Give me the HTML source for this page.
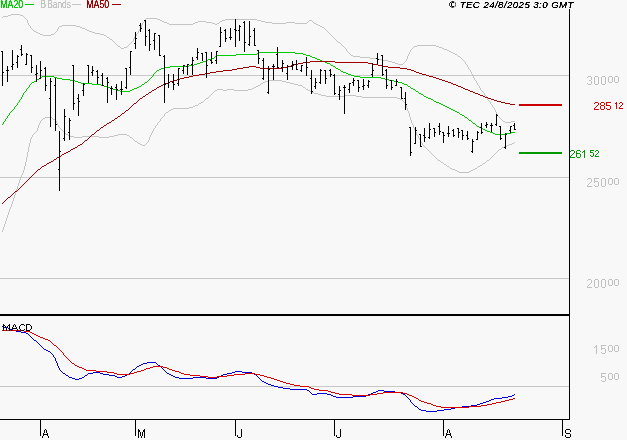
<!DOCTYPE html>
<html><head><meta charset="utf-8"><title>Chart</title>
<style>
html,body{margin:0;padding:0;background:#f8f8f8;}
body{width:627px;height:440px;overflow:hidden;font-family:"Liberation Sans",sans-serif;}
svg text{white-space:pre;}
svg{will-change:transform;transform:translateZ(0);}
</style></head><body>
<svg width="627" height="440" viewBox="0 0 627 440" style="display:block">
<defs><filter id="cr" x="-5%" y="-20%" width="110%" height="140%" color-interpolation-filters="sRGB"><feComponentTransfer><feFuncA type="linear" slope="2.6" intercept="-0.35"/></feComponentTransfer></filter></defs>
<rect x="0" y="0" width="627" height="440" fill="#f8f8f8"/>
<g shape-rendering="crispEdges">
<rect x="0" y="75" width="569" height="1" fill="#c8c8c8"/>
<rect x="0" y="177" width="569" height="1" fill="#c8c8c8"/>
<rect x="0" y="278" width="569" height="1" fill="#c8c8c8"/>
<rect x="0" y="386" width="569" height="1" fill="#c8c8c8"/>
</g>
<path d="M121 48h3v1h-3zM442 48h2v1h-2zM62 25h14v1h-14zM318 25h2v1h-2zM360 57h10v1h-10zM11 14h9v1h-9zM40 34h3v1h-3zM51 34h3v1h-3zM100 34h4v1h-4zM353 56h7v1h-7zM458 56h2v1h-2zM169 24h24v1h-24zM215 24h2v1h-2zM316 24h2v1h-2zM392 62h3v1h-3zM370 58h7v1h-7zM157 19h3v1h-3zM225 19h32v1h-32zM167 23h2v1h-2zM193 23h2v1h-2zM212 23h3v1h-3zM217 23h2v1h-2zM272 23h14v1h-14zM295 23h12v1h-12zM314 23h2v1h-2zM395 63h3v1h-3zM87 30h2v1h-2zM124 47h3v1h-3zM439 47h3v1h-3zM146 18h11v1h-11zM398 64h5v1h-5zM503 121h2v1h-2zM511 121h4v1h-4zM453 53h2v1h-2zM34 31h2v1h-2zM89 31h3v1h-3zM162 21h2v1h-2zM198 21h8v1h-8zM220 21h2v1h-2zM261 21h4v1h-4zM377 59h6v1h-6zM351 55h2v1h-2zM3 16h5v1h-5zM505 122h6v1h-6zM160 20h2v1h-2zM222 20h3v1h-3zM257 20h4v1h-4zM309 20h3v1h-3zM82 28h3v1h-3zM164 22h3v1h-3zM195 22h3v1h-3zM206 22h6v1h-6zM265 22h7v1h-7zM286 22h9v1h-9zM107 37h2v1h-2zM338 42h2v1h-2zM43 35h8v1h-8zM104 35h2v1h-2zM85 29h2v1h-2zM449 51h2v1h-2zM417 45h19v1h-19zM455 54h2v1h-2zM59 26h3v1h-3zM76 26h4v1h-4zM320 26h2v1h-2zM118 46h2v1h-2zM414 46h3v1h-3zM436 46h3v1h-3zM444 49h3v1h-3zM383 60h5v1h-5zM36 32h2v1h-2zM92 32h3v1h-3zM388 61h4v1h-4zM8 15h3v1h-3zM20 15h3v1h-3zM38 33h2v1h-2zM95 33h5v1h-5zM447 50h2v1h-2zM110 39h2v1h-2zM80 27h2v1h-2zM322 27h2v1h-2zM451 52h2v1h-2zM345 48h1v1h-1zM412 48h1v1h-1zM29 25h1v1h-1zM141 25h1v3h-1zM407 56h1v3h-1zM460 57h1v1h-1zM136 34h1v2h-1zM330 34h1v1h-1zM28 23h1v2h-1zM142 23h1v2h-1zM404 62h1v1h-1zM465 62h1v2h-1zM461 58h1v1h-1zM26 19h1v1h-1zM145 19h1v1h-1zM476 81h1v2h-1zM403 63h1v1h-1zM33 30h1v1h-1zM57 29h1v2h-1zM139 29h1v2h-1zM326 30h1v1h-1zM480 88h1v2h-1zM120 47h1v1h-1zM344 47h1v1h-1zM413 47h1v1h-1zM25 18h1v1h-1zM469 69h1v1h-1zM466 64h1v1h-1zM349 53h1v1h-1zM409 52h1v2h-1zM56 31h1v1h-1zM138 31h1v2h-1zM327 31h1v1h-1zM27 20h1v3h-1zM144 20h1v2h-1zM308 21h1v1h-1zM312 21h1v1h-1zM406 59h1v2h-1zM462 59h1v1h-1zM408 54h1v2h-1zM457 55h1v1h-1zM23 16h1v1h-1zM31 28h1v1h-1zM58 27h1v2h-1zM140 28h1v1h-1zM324 28h1v1h-1zM143 22h1v1h-1zM219 22h1v1h-1zM307 22h1v1h-1zM313 22h1v1h-1zM134 37h1v2h-1zM333 37h1v1h-1zM114 42h1v1h-1zM131 42h1v1h-1zM331 35h1v1h-1zM115 43h1v1h-1zM130 43h1v1h-1zM340 43h1v1h-1zM32 29h1v1h-1zM325 29h1v1h-1zM347 51h1v1h-1zM410 50h1v2h-1zM117 45h1v1h-1zM128 45h1v1h-1zM342 45h1v1h-1zM479 86h1v2h-1zM116 44h1v1h-1zM129 44h1v1h-1zM341 44h1v1h-1zM350 54h1v1h-1zM472 74h1v2h-1zM475 80h1v1h-1zM30 26h1v2h-1zM127 46h1v1h-1zM343 46h1v1h-1zM468 67h1v2h-1zM346 49h1v2h-1zM411 49h1v1h-1zM106 36h1v1h-1zM135 36h1v1h-1zM332 36h1v1h-1zM463 60h1v1h-1zM2 17h1v1h-1zM24 17h1v1h-1zM109 38h1v1h-1zM334 38h1v1h-1zM478 85h1v1h-1zM471 72h1v2h-1zM55 32h1v1h-1zM328 32h1v1h-1zM500 118h1v1h-1zM405 61h1v1h-1zM464 61h1v1h-1zM501 119h1v1h-1zM482 91h1v1h-1zM467 65h1v2h-1zM486 96h1v2h-1zM54 33h1v1h-1zM137 33h1v1h-1zM329 33h1v1h-1zM133 39h1v2h-1zM335 39h1v1h-1zM112 40h1v1h-1zM336 40h1v1h-1zM470 70h1v2h-1zM502 120h1v1h-1zM485 95h1v1h-1zM348 52h1v1h-1zM484 93h1v2h-1zM487 98h1v2h-1zM488 100h1v1h-1zM483 92h1v1h-1zM113 41h1v1h-1zM132 41h1v1h-1zM337 41h1v1h-1zM495 110h1v2h-1zM490 102h1v2h-1zM498 116h1v1h-1zM491 104h1v1h-1zM494 108h1v2h-1zM497 114h1v2h-1zM496 112h1v2h-1zM489 101h1v1h-1zM492 105h1v2h-1zM493 107h1v1h-1zM474 78h1v2h-1zM499 117h1v1h-1zM477 83h1v2h-1zM473 76h1v2h-1zM481 90h1v1h-1z" fill="#c4c4c4" shape-rendering="crispEdges"/>
<path d="M53 119h2v1h-2zM480 165h2v1h-2zM268 80h14v1h-14zM138 143h2v1h-2zM512 143h2v1h-2zM135 141h2v1h-2zM173 108h16v1h-16zM70 136h4v1h-4zM82 136h17v1h-17zM109 136h5v1h-5zM45 117h7v1h-7zM326 96h19v1h-19zM356 96h6v1h-6zM362 97h35v1h-35zM312 92h2v1h-2zM438 160h2v1h-2zM487 160h2v1h-2zM252 88h2v1h-2zM263 82h2v1h-2zM286 82h4v1h-4zM74 137h8v1h-8zM99 137h10v1h-10zM130 137h2v1h-2zM254 87h2v1h-2zM303 87h2v1h-2zM314 93h4v1h-4zM321 95h5v1h-5zM345 95h11v1h-11zM43 118h2v1h-2zM444 164h2v1h-2zM215 90h2v1h-2zM223 90h4v1h-4zM234 90h14v1h-14zM308 90h2v1h-2zM265 81h3v1h-3zM282 81h4v1h-4zM68 135h2v1h-2zM114 135h4v1h-4zM127 135h2v1h-2zM66 134h2v1h-2zM118 134h9v1h-9zM217 89h6v1h-6zM227 89h7v1h-7zM248 89h4v1h-4zM306 89h2v1h-2zM450 168h2v1h-2zM475 168h2v1h-2zM400 99h2v1h-2zM294 84h4v1h-4zM441 162h2v1h-2zM452 169h3v1h-3zM473 169h2v1h-2zM201 102h2v1h-2zM318 94h3v1h-3zM459 172h10v1h-10zM483 163h2v1h-2zM258 85h2v1h-2zM298 85h4v1h-4zM504 146h3v1h-3zM142 145h3v1h-3zM507 145h2v1h-2zM502 147h2v1h-2zM193 106h2v1h-2zM457 171h2v1h-2zM469 171h2v1h-2zM166 112h2v1h-2zM206 98h2v1h-2zM397 98h3v1h-3zM447 166h2v1h-2zM478 166h2v1h-2zM261 83h2v1h-2zM290 83h4v1h-4zM499 149h2v1h-2zM195 105h3v1h-3zM189 107h4v1h-4zM310 91h2v1h-2zM140 144h2v1h-2zM509 144h3v1h-3zM455 170h2v1h-2zM471 170h2v1h-2zM199 103h2v1h-2zM169 110h2v1h-2zM256 86h2v1h-2zM171 109h2v1h-2zM26 157h1v5h-1zM437 159h1v1h-1zM489 159h1v1h-1zM30 139h1v4h-1zM137 142h1v1h-1zM147 142h1v1h-1zM421 142h1v1h-1zM514 142h1v1h-1zM42 119h1v1h-1zM160 119h1v2h-1zM410 117h1v3h-1zM25 162h1v4h-1zM446 165h1v1h-1zM6 218h1v3h-1zM29 143h1v4h-1zM146 143h1v1h-1zM422 143h1v2h-1zM148 140h1v2h-1zM420 140h1v2h-1zM407 108h1v3h-1zM32 135h1v2h-1zM129 136h1v1h-1zM150 135h1v2h-1zM418 136h1v2h-1zM162 117h1v1h-1zM38 125h1v3h-1zM58 125h1v2h-1zM155 126h1v2h-1zM413 125h1v3h-1zM13 198h1v3h-1zM209 96h1v1h-1zM208 97h1v1h-1zM213 92h1v1h-1zM305 88h1v1h-1zM17 186h1v3h-1zM31 137h1v2h-1zM149 137h1v3h-1zM133 139h1v1h-1zM419 138h1v2h-1zM28 147h1v5h-1zM426 148h1v1h-1zM501 148h1v1h-1zM9 209h1v3h-1zM21 175h1v2h-1zM5 221h1v3h-1zM212 93h1v1h-1zM210 95h1v1h-1zM52 118h1v1h-1zM161 118h1v1h-1zM34 133h1v1h-1zM65 133h1v1h-1zM151 133h1v2h-1zM416 132h1v3h-1zM482 164h1v1h-1zM37 128h1v3h-1zM61 129h1v1h-1zM153 129h1v2h-1zM414 128h1v2h-1zM163 116h1v1h-1zM409 113h1v4h-1zM4 224h1v3h-1zM16 189h1v3h-1zM417 135h1v1h-1zM33 134h1v1h-1zM27 152h1v5h-1zM434 156h1v1h-1zM492 156h1v1h-1zM24 166h1v4h-1zM449 167h1v1h-1zM477 167h1v1h-1zM205 99h1v1h-1zM260 84h1v1h-1zM35 132h1v1h-1zM64 132h1v1h-1zM152 131h1v2h-1zM485 162h1v1h-1zM404 102h1v1h-1zM134 140h1v1h-1zM203 101h1v1h-1zM403 101h1v1h-1zM211 94h1v1h-1zM156 125h1v1h-1zM23 170h1v3h-1zM8 212h1v3h-1zM443 163h1v1h-1zM60 128h1v1h-1zM154 128h1v1h-1zM12 201h1v3h-1zM424 146h1v1h-1zM36 131h1v1h-1zM63 131h1v1h-1zM415 130h1v2h-1zM423 145h1v1h-1zM425 147h1v1h-1zM406 105h1v3h-1zM11 204h1v3h-1zM431 153h1v1h-1zM495 153h1v1h-1zM432 154h1v1h-1zM494 154h1v1h-1zM428 150h1v1h-1zM498 150h1v1h-1zM408 111h1v2h-1zM20 177h1v3h-1zM40 121h1v2h-1zM56 121h1v2h-1zM158 122h1v1h-1zM411 120h1v3h-1zM59 127h1v1h-1zM430 152h1v1h-1zM496 152h1v1h-1zM3 227h1v3h-1zM427 149h1v1h-1zM41 120h1v1h-1zM55 120h1v1h-1zM7 215h1v3h-1zM19 180h1v3h-1zM214 91h1v1h-1zM2 230h1v2h-1zM164 114h1v2h-1zM62 130h1v1h-1zM198 104h1v1h-1zM405 103h1v2h-1zM165 113h1v1h-1zM145 144h1v1h-1zM15 192h1v3h-1zM39 123h1v2h-1zM57 123h1v2h-1zM157 123h1v2h-1zM412 123h1v2h-1zM435 157h1v1h-1zM491 157h1v1h-1zM204 100h1v1h-1zM402 100h1v1h-1zM10 207h1v2h-1zM14 195h1v3h-1zM18 183h1v3h-1zM302 86h1v1h-1zM433 155h1v1h-1zM493 155h1v1h-1zM436 158h1v1h-1zM490 158h1v1h-1zM440 161h1v1h-1zM486 161h1v1h-1zM22 173h1v2h-1zM159 121h1v1h-1zM132 138h1v1h-1zM429 151h1v1h-1zM497 151h1v1h-1zM168 111h1v1h-1z" fill="#c4c4c4" shape-rendering="crispEdges"/>
<path d="M39 78h2v1h-2zM57 78h5v1h-5zM381 78h4v1h-4zM70 80h5v1h-5zM389 80h5v1h-5zM206 60h2v1h-2zM320 60h2v1h-2zM34 81h2v1h-2zM75 81h3v1h-3zM394 81h4v1h-4zM113 89h3v1h-3zM132 89h2v1h-2zM413 89h2v1h-2zM170 66h19v1h-19zM333 66h2v1h-2zM217 55h19v1h-19zM306 55h4v1h-4zM200 62h3v1h-3zM325 62h2v1h-2zM108 87h2v1h-2zM137 87h2v1h-2zM116 90h4v1h-4zM130 90h2v1h-2zM197 63h3v1h-3zM327 63h3v1h-3zM351 75h3v1h-3zM92 84h9v1h-9zM142 84h2v1h-2zM404 84h3v1h-3zM165 67h5v1h-5zM259 52h36v1h-36zM37 79h2v1h-2zM62 79h8v1h-8zM385 79h4v1h-4zM493 133h2v1h-2zM505 133h6v1h-6zM101 85h3v1h-3zM236 54h21v1h-21zM303 54h3v1h-3zM104 86h4v1h-4zM139 86h2v1h-2zM408 86h2v1h-2zM431 99h2v1h-2zM32 82h2v1h-2zM78 82h3v1h-3zM145 82h2v1h-2zM398 82h4v1h-4zM42 76h12v1h-12zM354 76h6v1h-6zM495 134h10v1h-10zM54 77h3v1h-3zM360 77h21v1h-21zM81 83h11v1h-11zM402 83h2v1h-2zM110 88h3v1h-3zM134 88h3v1h-3zM411 88h2v1h-2zM341 71h2v1h-2zM189 65h5v1h-5zM331 65h2v1h-2zM485 130h2v1h-2zM348 74h3v1h-3zM477 126h2v1h-2zM490 132h3v1h-3zM511 132h4v1h-4zM120 91h10v1h-10zM416 91h2v1h-2zM455 111h2v1h-2zM460 114h2v1h-2zM421 94h2v1h-2zM451 109h2v1h-2zM257 53h2v1h-2zM295 53h8v1h-8zM462 115h2v1h-2zM447 107h2v1h-2zM312 57h3v1h-3zM481 128h2v1h-2zM208 59h3v1h-3zM317 59h3v1h-3zM434 101h2v1h-2zM439 103h2v1h-2zM343 72h3v1h-3zM443 105h2v1h-2zM346 73h2v1h-2zM487 131h3v1h-3zM159 69h2v1h-2zM338 69h2v1h-2zM436 102h3v1h-3zM428 98h3v1h-3zM203 61h3v1h-3zM322 61h3v1h-3zM473 123h2v1h-2zM424 96h2v1h-2zM469 120h2v1h-2zM161 68h4v1h-4zM336 68h2v1h-2zM194 64h3v1h-3zM211 58h3v1h-3zM315 58h2v1h-2zM215 56h2v1h-2zM310 56h2v1h-2zM465 117h2v1h-2zM483 129h2v1h-2zM457 112h2v1h-2zM449 108h2v1h-2zM479 127h2v1h-2zM453 110h2v1h-2zM445 106h2v1h-2zM441 104h2v1h-2zM157 70h2v1h-2zM426 97h2v1h-2zM419 93h2v1h-2zM150 78h1v1h-1zM36 80h1v1h-1zM148 80h1v1h-1zM5 119h1v2h-1zM468 119h1v1h-1zM147 81h1v1h-1zM26 89h1v2h-1zM28 87h1v1h-1zM410 87h1v1h-1zM415 90h1v1h-1zM24 92h1v1h-1zM418 92h1v1h-1zM153 74h1v2h-1zM30 84h1v1h-1zM335 67h1v1h-1zM149 79h1v1h-1zM6 118h1v1h-1zM467 118h1v1h-1zM29 85h1v2h-1zM141 85h1v1h-1zM407 85h1v1h-1zM20 99h1v1h-1zM152 76h1v1h-1zM41 77h1v1h-1zM151 77h1v1h-1zM3 122h1v2h-1zM472 122h1v1h-1zM31 83h1v1h-1zM144 83h1v1h-1zM27 88h1v1h-1zM156 71h1v1h-1zM9 113h1v2h-1zM459 113h1v1h-1zM25 91h1v1h-1zM11 111h1v1h-1zM23 93h1v2h-1zM13 109h1v1h-1zM8 115h1v1h-1zM14 107h1v2h-1zM214 57h1v1h-1zM19 100h1v2h-1zM17 103h1v2h-1zM2 124h1v1h-1zM475 124h1v1h-1zM433 100h1v1h-1zM155 72h1v1h-1zM16 105h1v1h-1zM154 73h1v1h-1zM18 102h1v1h-1zM21 97h1v2h-1zM22 95h1v2h-1zM330 64h1v1h-1zM7 116h1v2h-1zM464 116h1v1h-1zM10 112h1v1h-1zM12 110h1v1h-1zM15 106h1v1h-1zM340 70h1v1h-1zM4 121h1v1h-1zM471 121h1v1h-1zM423 95h1v1h-1zM476 125h1v1h-1z" fill="#00cc00" shape-rendering="crispEdges"/>
<path d="M184 77h5v1h-5zM433 77h3v1h-3zM494 100h3v1h-3zM223 70h9v1h-9zM411 70h3v1h-3zM210 72h6v1h-6zM416 72h3v1h-3zM298 63h5v1h-5zM368 63h5v1h-5zM249 66h7v1h-7zM288 66h3v1h-3zM382 66h6v1h-6zM134 103h2v1h-2zM505 103h5v1h-5zM44 165h2v1h-2zM303 62h7v1h-7zM335 62h33v1h-33zM180 78h4v1h-4zM436 78h3v1h-3zM237 68h6v1h-6zM260 68h23v1h-23zM400 68h7v1h-7zM497 101h4v1h-4zM78 145h2v1h-2zM177 79h3v1h-3zM439 79h3v1h-3zM205 73h5v1h-5zM419 73h3v1h-3zM168 82h2v1h-2zM448 82h3v1h-3zM216 71h7v1h-7zM414 71h2v1h-2zM75 147h2v1h-2zM189 76h4v1h-4zM429 76h4v1h-4zM15 191h2v1h-2zM199 74h6v1h-6zM422 74h4v1h-4zM310 61h25v1h-25zM294 64h4v1h-4zM373 64h5v1h-5zM501 102h4v1h-4zM8 197h2v1h-2zM163 84h2v1h-2zM453 84h3v1h-3zM66 152h2v1h-2zM170 81h3v1h-3zM445 81h3v1h-3zM97 130h2v1h-2zM54 159h2v1h-2zM243 67h6v1h-6zM256 67h4v1h-4zM283 67h5v1h-5zM388 67h12v1h-12zM109 122h2v1h-2zM71 149h2v1h-2zM101 127h2v1h-2zM62 154h2v1h-2zM159 86h2v1h-2zM458 86h3v1h-3zM193 75h6v1h-6zM426 75h3v1h-3zM173 80h4v1h-4zM442 80h3v1h-3zM475 93h3v1h-3zM51 161h2v1h-2zM42 166h2v1h-2zM146 94h2v1h-2zM478 94h2v1h-2zM143 96h2v1h-2zM483 96h2v1h-2zM59 156h2v1h-2zM47 163h2v1h-2zM470 91h3v1h-3zM463 88h2v1h-2zM149 92h2v1h-2zM473 92h2v1h-2zM85 140h2v1h-2zM154 89h2v1h-2zM465 89h3v1h-3zM232 69h5v1h-5zM407 69h4v1h-4zM485 97h3v1h-3zM140 98h2v1h-2zM488 98h3v1h-3zM152 90h2v1h-2zM468 90h2v1h-2zM115 118h2v1h-2zM107 123h2v1h-2zM92 134h2v1h-2zM480 95h3v1h-3zM73 148h2v1h-2zM291 65h3v1h-3zM378 65h4v1h-4zM491 99h3v1h-3zM510 104h5v1h-5zM161 85h2v1h-2zM456 85h2v1h-2zM57 157h2v1h-2zM49 162h2v1h-2zM112 120h2v1h-2zM157 87h2v1h-2zM461 87h2v1h-2zM104 125h2v1h-2zM165 83h3v1h-3zM451 83h2v1h-2zM80 144h2v1h-2zM118 116h2v1h-2zM68 151h2v1h-2zM122 113h2v1h-2zM126 110h2v1h-2zM64 153h2v1h-2zM38 169h2v1h-2zM138 100h1v1h-1zM96 131h1v1h-1zM53 160h1v1h-1zM2 203h1v1h-1zM37 170h1v1h-1zM137 101h1v1h-1zM94 133h1v1h-1zM83 142h1v1h-1zM87 139h1v1h-1zM25 182h1v1h-1zM136 102h1v1h-1zM41 167h1v1h-1zM121 114h1v1h-1zM125 111h1v1h-1zM114 119h1v1h-1zM106 124h1v1h-1zM148 93h1v1h-1zM129 108h1v1h-1zM32 175h1v1h-1zM151 91h1v1h-1zM156 88h1v1h-1zM20 187h1v1h-1zM89 137h1v1h-1zM7 198h1v1h-1zM142 97h1v1h-1zM11 195h1v1h-1zM4 201h1v1h-1zM61 155h1v1h-1zM27 180h1v1h-1zM145 95h1v1h-1zM120 115h1v1h-1zM139 99h1v1h-1zM133 104h1v1h-1zM100 128h1v1h-1zM131 106h1v1h-1zM124 112h1v1h-1zM22 185h1v1h-1zM34 173h1v1h-1zM6 199h1v1h-1zM10 196h1v1h-1zM91 135h1v1h-1zM29 178h1v1h-1zM95 132h1v1h-1zM84 141h1v1h-1zM99 129h1v1h-1zM56 158h1v1h-1zM13 193h1v1h-1zM82 143h1v1h-1zM17 190h1v1h-1zM36 171h1v1h-1zM40 168h1v1h-1zM103 126h1v1h-1zM24 183h1v1h-1zM70 150h1v1h-1zM128 109h1v1h-1zM31 176h1v1h-1zM90 136h1v1h-1zM28 179h1v1h-1zM19 188h1v1h-1zM12 194h1v1h-1zM117 117h1v1h-1zM132 105h1v1h-1zM35 172h1v1h-1zM26 181h1v1h-1zM23 184h1v1h-1zM46 164h1v1h-1zM3 202h1v1h-1zM88 138h1v1h-1zM111 121h1v1h-1zM77 146h1v1h-1zM30 177h1v1h-1zM14 192h1v1h-1zM18 189h1v1h-1zM130 107h1v1h-1zM33 174h1v1h-1zM21 186h1v1h-1zM5 200h1v1h-1z" fill="#a00000" shape-rendering="crispEdges"/>
<g fill="#000" shape-rendering="crispEdges">
<rect x="2" y="51" width="1" height="35"/>
<rect x="1" y="51" width="1" height="1"/>
<rect x="3" y="72" width="1" height="1"/>
<rect x="7" y="66" width="1" height="16"/>
<rect x="6" y="70" width="1" height="1"/>
<rect x="8" y="70" width="1" height="1"/>
<rect x="12" y="50" width="1" height="20"/>
<rect x="11" y="66" width="1" height="1"/>
<rect x="13" y="64" width="1" height="1"/>
<rect x="17" y="55" width="1" height="13"/>
<rect x="16" y="62" width="1" height="1"/>
<rect x="18" y="56" width="1" height="1"/>
<rect x="21" y="45" width="1" height="11"/>
<rect x="20" y="49" width="1" height="1"/>
<rect x="22" y="54" width="1" height="1"/>
<rect x="26" y="53" width="1" height="12"/>
<rect x="25" y="64" width="1" height="1"/>
<rect x="27" y="54" width="1" height="1"/>
<rect x="31" y="55" width="1" height="18"/>
<rect x="30" y="55" width="1" height="1"/>
<rect x="32" y="67" width="1" height="1"/>
<rect x="36" y="65" width="1" height="17"/>
<rect x="35" y="74" width="1" height="1"/>
<rect x="37" y="73" width="1" height="1"/>
<rect x="40" y="61" width="1" height="18"/>
<rect x="39" y="78" width="1" height="1"/>
<rect x="41" y="70" width="1" height="1"/>
<rect x="45" y="67" width="1" height="24"/>
<rect x="44" y="68" width="1" height="1"/>
<rect x="46" y="85" width="1" height="1"/>
<rect x="50" y="78" width="1" height="49"/>
<rect x="49" y="98" width="1" height="1"/>
<rect x="51" y="81" width="1" height="1"/>
<rect x="55" y="78" width="1" height="53"/>
<rect x="54" y="85" width="1" height="1"/>
<rect x="56" y="124" width="1" height="1"/>
<rect x="59" y="131" width="1" height="60"/>
<rect x="58" y="169" width="1" height="1"/>
<rect x="60" y="151" width="1" height="1"/>
<rect x="64" y="109" width="1" height="32"/>
<rect x="63" y="138" width="1" height="1"/>
<rect x="65" y="116" width="1" height="1"/>
<rect x="69" y="118" width="1" height="22"/>
<rect x="68" y="132" width="1" height="1"/>
<rect x="70" y="120" width="1" height="1"/>
<rect x="73" y="65" width="1" height="45"/>
<rect x="72" y="65" width="1" height="1"/>
<rect x="74" y="103" width="1" height="1"/>
<rect x="78" y="94" width="1" height="22"/>
<rect x="77" y="98" width="1" height="1"/>
<rect x="79" y="101" width="1" height="1"/>
<rect x="83" y="83" width="1" height="13"/>
<rect x="82" y="90" width="1" height="1"/>
<rect x="84" y="84" width="1" height="1"/>
<rect x="88" y="65" width="1" height="18"/>
<rect x="87" y="65" width="1" height="1"/>
<rect x="92" y="66" width="1" height="10"/>
<rect x="91" y="72" width="1" height="1"/>
<rect x="93" y="70" width="1" height="1"/>
<rect x="97" y="70" width="1" height="14"/>
<rect x="96" y="71" width="1" height="1"/>
<rect x="98" y="77" width="1" height="1"/>
<rect x="102" y="73" width="1" height="13"/>
<rect x="101" y="75" width="1" height="1"/>
<rect x="103" y="85" width="1" height="1"/>
<rect x="107" y="77" width="1" height="26"/>
<rect x="106" y="78" width="1" height="1"/>
<rect x="108" y="82" width="1" height="1"/>
<rect x="111" y="86" width="1" height="9"/>
<rect x="110" y="88" width="1" height="1"/>
<rect x="112" y="88" width="1" height="1"/>
<rect x="116" y="84" width="1" height="16"/>
<rect x="115" y="87" width="1" height="1"/>
<rect x="117" y="89" width="1" height="1"/>
<rect x="121" y="81" width="1" height="14"/>
<rect x="120" y="89" width="1" height="1"/>
<rect x="122" y="89" width="1" height="1"/>
<rect x="125" y="87" width="1" height="1"/>
<rect x="126" y="68" width="1" height="21"/>
<rect x="125" y="68" width="1" height="1"/>
<rect x="130" y="51" width="1" height="24"/>
<rect x="129" y="67" width="1" height="1"/>
<rect x="131" y="51" width="1" height="1"/>
<rect x="135" y="32" width="1" height="17"/>
<rect x="134" y="43" width="1" height="1"/>
<rect x="136" y="38" width="1" height="1"/>
<rect x="140" y="23" width="1" height="9"/>
<rect x="139" y="25" width="1" height="1"/>
<rect x="141" y="28" width="1" height="1"/>
<rect x="145" y="20" width="1" height="26"/>
<rect x="144" y="20" width="1" height="1"/>
<rect x="146" y="36" width="1" height="1"/>
<rect x="149" y="29" width="1" height="22"/>
<rect x="148" y="30" width="1" height="1"/>
<rect x="150" y="44" width="1" height="1"/>
<rect x="154" y="33" width="1" height="17"/>
<rect x="153" y="40" width="1" height="1"/>
<rect x="155" y="33" width="1" height="1"/>
<rect x="159" y="35" width="1" height="21"/>
<rect x="158" y="35" width="1" height="1"/>
<rect x="160" y="55" width="1" height="1"/>
<rect x="164" y="55" width="1" height="48"/>
<rect x="163" y="56" width="1" height="1"/>
<rect x="165" y="84" width="1" height="1"/>
<rect x="168" y="74" width="1" height="14"/>
<rect x="167" y="83" width="1" height="1"/>
<rect x="169" y="82" width="1" height="1"/>
<rect x="173" y="74" width="1" height="16"/>
<rect x="172" y="82" width="1" height="1"/>
<rect x="174" y="84" width="1" height="1"/>
<rect x="178" y="68" width="1" height="18"/>
<rect x="177" y="83" width="1" height="1"/>
<rect x="179" y="68" width="1" height="1"/>
<rect x="183" y="65" width="1" height="9"/>
<rect x="182" y="70" width="1" height="1"/>
<rect x="184" y="65" width="1" height="1"/>
<rect x="187" y="64" width="1" height="11"/>
<rect x="186" y="66" width="1" height="1"/>
<rect x="188" y="64" width="1" height="1"/>
<rect x="192" y="57" width="1" height="18"/>
<rect x="191" y="64" width="1" height="1"/>
<rect x="193" y="60" width="1" height="1"/>
<rect x="197" y="48" width="1" height="12"/>
<rect x="196" y="57" width="1" height="1"/>
<rect x="198" y="52" width="1" height="1"/>
<rect x="202" y="53" width="1" height="8"/>
<rect x="201" y="53" width="1" height="1"/>
<rect x="206" y="52" width="1" height="26"/>
<rect x="205" y="52" width="1" height="1"/>
<rect x="207" y="65" width="1" height="1"/>
<rect x="211" y="52" width="1" height="12"/>
<rect x="210" y="60" width="1" height="1"/>
<rect x="212" y="62" width="1" height="1"/>
<rect x="216" y="51" width="1" height="13"/>
<rect x="215" y="60" width="1" height="1"/>
<rect x="217" y="51" width="1" height="1"/>
<rect x="220" y="27" width="1" height="20"/>
<rect x="219" y="46" width="1" height="1"/>
<rect x="221" y="32" width="1" height="1"/>
<rect x="225" y="29" width="1" height="13"/>
<rect x="224" y="30" width="1" height="1"/>
<rect x="226" y="38" width="1" height="1"/>
<rect x="230" y="28" width="1" height="12"/>
<rect x="229" y="37" width="1" height="1"/>
<rect x="231" y="37" width="1" height="1"/>
<rect x="235" y="19" width="1" height="28"/>
<rect x="234" y="29" width="1" height="1"/>
<rect x="236" y="30" width="1" height="1"/>
<rect x="239" y="25" width="1" height="16"/>
<rect x="238" y="30" width="1" height="1"/>
<rect x="240" y="26" width="1" height="1"/>
<rect x="244" y="21" width="1" height="31"/>
<rect x="243" y="22" width="1" height="1"/>
<rect x="245" y="42" width="1" height="1"/>
<rect x="249" y="21" width="1" height="25"/>
<rect x="248" y="44" width="1" height="1"/>
<rect x="250" y="36" width="1" height="1"/>
<rect x="254" y="28" width="1" height="18"/>
<rect x="253" y="30" width="1" height="1"/>
<rect x="255" y="45" width="1" height="1"/>
<rect x="258" y="50" width="1" height="14"/>
<rect x="257" y="50" width="1" height="1"/>
<rect x="259" y="58" width="1" height="1"/>
<rect x="262" y="78" width="1" height="1"/>
<rect x="263" y="58" width="1" height="22"/>
<rect x="262" y="60" width="1" height="1"/>
<rect x="268" y="66" width="1" height="28"/>
<rect x="267" y="92" width="1" height="1"/>
<rect x="269" y="69" width="1" height="1"/>
<rect x="273" y="64" width="1" height="16"/>
<rect x="272" y="66" width="1" height="1"/>
<rect x="274" y="66" width="1" height="1"/>
<rect x="277" y="47" width="1" height="21"/>
<rect x="276" y="54" width="1" height="1"/>
<rect x="278" y="67" width="1" height="1"/>
<rect x="282" y="60" width="1" height="12"/>
<rect x="281" y="67" width="1" height="1"/>
<rect x="283" y="63" width="1" height="1"/>
<rect x="287" y="65" width="1" height="15"/>
<rect x="286" y="73" width="1" height="1"/>
<rect x="288" y="66" width="1" height="1"/>
<rect x="292" y="61" width="1" height="9"/>
<rect x="291" y="66" width="1" height="1"/>
<rect x="293" y="64" width="1" height="1"/>
<rect x="296" y="60" width="1" height="10"/>
<rect x="295" y="64" width="1" height="1"/>
<rect x="297" y="69" width="1" height="1"/>
<rect x="301" y="65" width="1" height="7"/>
<rect x="300" y="70" width="1" height="1"/>
<rect x="302" y="65" width="1" height="1"/>
<rect x="306" y="57" width="1" height="19"/>
<rect x="305" y="62" width="1" height="1"/>
<rect x="307" y="67" width="1" height="1"/>
<rect x="311" y="70" width="1" height="24"/>
<rect x="310" y="78" width="1" height="1"/>
<rect x="312" y="91" width="1" height="1"/>
<rect x="315" y="78" width="1" height="11"/>
<rect x="314" y="86" width="1" height="1"/>
<rect x="316" y="82" width="1" height="1"/>
<rect x="320" y="69" width="1" height="15"/>
<rect x="319" y="82" width="1" height="1"/>
<rect x="321" y="70" width="1" height="1"/>
<rect x="325" y="70" width="1" height="14"/>
<rect x="324" y="70" width="1" height="1"/>
<rect x="326" y="78" width="1" height="1"/>
<rect x="330" y="69" width="1" height="8"/>
<rect x="329" y="70" width="1" height="1"/>
<rect x="331" y="74" width="1" height="1"/>
<rect x="334" y="74" width="1" height="21"/>
<rect x="333" y="75" width="1" height="1"/>
<rect x="335" y="93" width="1" height="1"/>
<rect x="339" y="86" width="1" height="14"/>
<rect x="338" y="94" width="1" height="1"/>
<rect x="340" y="90" width="1" height="1"/>
<rect x="344" y="85" width="1" height="29"/>
<rect x="343" y="87" width="1" height="1"/>
<rect x="345" y="87" width="1" height="1"/>
<rect x="349" y="83" width="1" height="10"/>
<rect x="348" y="89" width="1" height="1"/>
<rect x="350" y="83" width="1" height="1"/>
<rect x="353" y="78" width="1" height="8"/>
<rect x="352" y="82" width="1" height="1"/>
<rect x="354" y="80" width="1" height="1"/>
<rect x="358" y="80" width="1" height="12"/>
<rect x="357" y="80" width="1" height="1"/>
<rect x="359" y="87" width="1" height="1"/>
<rect x="363" y="79" width="1" height="11"/>
<rect x="362" y="86" width="1" height="1"/>
<rect x="364" y="85" width="1" height="1"/>
<rect x="368" y="80" width="1" height="8"/>
<rect x="367" y="85" width="1" height="1"/>
<rect x="369" y="81" width="1" height="1"/>
<rect x="372" y="63" width="1" height="14"/>
<rect x="371" y="74" width="1" height="1"/>
<rect x="373" y="70" width="1" height="1"/>
<rect x="377" y="53" width="1" height="11"/>
<rect x="376" y="58" width="1" height="1"/>
<rect x="378" y="59" width="1" height="1"/>
<rect x="382" y="55" width="1" height="21"/>
<rect x="381" y="55" width="1" height="1"/>
<rect x="383" y="74" width="1" height="1"/>
<rect x="386" y="69" width="1" height="20"/>
<rect x="385" y="70" width="1" height="1"/>
<rect x="387" y="85" width="1" height="1"/>
<rect x="391" y="80" width="1" height="10"/>
<rect x="390" y="80" width="1" height="1"/>
<rect x="392" y="87" width="1" height="1"/>
<rect x="396" y="79" width="1" height="7"/>
<rect x="395" y="85" width="1" height="1"/>
<rect x="397" y="81" width="1" height="1"/>
<rect x="401" y="87" width="1" height="12"/>
<rect x="400" y="87" width="1" height="1"/>
<rect x="402" y="98" width="1" height="1"/>
<rect x="405" y="92" width="1" height="18"/>
<rect x="404" y="98" width="1" height="1"/>
<rect x="406" y="104" width="1" height="1"/>
<rect x="410" y="127" width="1" height="29"/>
<rect x="409" y="127" width="1" height="1"/>
<rect x="411" y="152" width="1" height="1"/>
<rect x="415" y="127" width="1" height="17"/>
<rect x="414" y="143" width="1" height="1"/>
<rect x="416" y="130" width="1" height="1"/>
<rect x="420" y="134" width="1" height="13"/>
<rect x="419" y="134" width="1" height="1"/>
<rect x="421" y="146" width="1" height="1"/>
<rect x="424" y="128" width="1" height="14"/>
<rect x="423" y="135" width="1" height="1"/>
<rect x="425" y="137" width="1" height="1"/>
<rect x="429" y="123" width="1" height="16"/>
<rect x="428" y="137" width="1" height="1"/>
<rect x="430" y="129" width="1" height="1"/>
<rect x="434" y="128" width="1" height="9"/>
<rect x="433" y="128" width="1" height="1"/>
<rect x="435" y="132" width="1" height="1"/>
<rect x="439" y="123" width="1" height="12"/>
<rect x="438" y="126" width="1" height="1"/>
<rect x="440" y="131" width="1" height="1"/>
<rect x="443" y="132" width="1" height="11"/>
<rect x="442" y="132" width="1" height="1"/>
<rect x="444" y="135" width="1" height="1"/>
<rect x="448" y="126" width="1" height="11"/>
<rect x="447" y="133" width="1" height="1"/>
<rect x="449" y="133" width="1" height="1"/>
<rect x="453" y="129" width="1" height="8"/>
<rect x="452" y="130" width="1" height="1"/>
<rect x="454" y="135" width="1" height="1"/>
<rect x="458" y="128" width="1" height="10"/>
<rect x="457" y="128" width="1" height="1"/>
<rect x="459" y="132" width="1" height="1"/>
<rect x="462" y="130" width="1" height="10"/>
<rect x="461" y="130" width="1" height="1"/>
<rect x="463" y="135" width="1" height="1"/>
<rect x="467" y="131" width="1" height="9"/>
<rect x="466" y="135" width="1" height="1"/>
<rect x="468" y="138" width="1" height="1"/>
<rect x="472" y="139" width="1" height="14"/>
<rect x="471" y="151" width="1" height="1"/>
<rect x="473" y="141" width="1" height="1"/>
<rect x="477" y="131" width="1" height="9"/>
<rect x="476" y="139" width="1" height="1"/>
<rect x="478" y="132" width="1" height="1"/>
<rect x="481" y="123" width="1" height="11"/>
<rect x="480" y="127" width="1" height="1"/>
<rect x="482" y="132" width="1" height="1"/>
<rect x="486" y="122" width="1" height="6"/>
<rect x="485" y="125" width="1" height="1"/>
<rect x="487" y="124" width="1" height="1"/>
<rect x="491" y="123" width="1" height="9"/>
<rect x="490" y="125" width="1" height="1"/>
<rect x="492" y="125" width="1" height="1"/>
<rect x="496" y="114" width="1" height="12"/>
<rect x="495" y="124" width="1" height="1"/>
<rect x="497" y="115" width="1" height="1"/>
<rect x="500" y="126" width="1" height="14"/>
<rect x="499" y="126" width="1" height="1"/>
<rect x="501" y="138" width="1" height="1"/>
<rect x="505" y="133" width="1" height="16"/>
<rect x="504" y="147" width="1" height="1"/>
<rect x="506" y="134" width="1" height="1"/>
<rect x="510" y="126" width="1" height="7"/>
<rect x="509" y="130" width="1" height="1"/>
<rect x="511" y="126" width="1" height="1"/>
<rect x="514" y="123" width="1" height="7"/>
<rect x="513" y="125" width="1" height="1"/>
<rect x="515" y="129" width="1" height="1"/>
</g>
<g shape-rendering="crispEdges">
<rect x="519" y="104" width="43" height="2" fill="#cc0000"/>
<rect x="519" y="152" width="43" height="2" fill="#009900"/>
<rect x="0" y="314" width="570" height="2" fill="#000"/>
<rect x="569" y="9" width="1" height="411" fill="#000"/>
<rect x="0" y="419" width="570" height="1" fill="#000"/>
<rect x="40" y="419" width="1" height="17" fill="#000"/>
<rect x="135" y="419" width="1" height="17" fill="#000"/>
<rect x="235" y="419" width="1" height="17" fill="#000"/>
<rect x="334" y="419" width="1" height="17" fill="#000"/>
<rect x="443" y="419" width="1" height="17" fill="#000"/>
<rect x="562" y="419" width="1" height="17" fill="#000"/>
</g>
<path d="M317 393h10v1h-10zM371 393h2v1h-2zM401 393h2v1h-2zM137 366h2v1h-2zM290 389h17v1h-17zM426 411h11v1h-11zM72 378h3v1h-3zM79 378h3v1h-3zM179 378h14v1h-14zM206 378h11v1h-11zM336 397h17v1h-17zM502 397h6v1h-6zM8 328h2v1h-2zM69 377h3v1h-3zM82 377h2v1h-2zM117 377h5v1h-5zM175 377h4v1h-4zM193 377h13v1h-13zM217 377h2v1h-2zM333 396h3v1h-3zM353 396h13v1h-13zM508 396h4v1h-4zM66 375h2v1h-2zM85 375h2v1h-2zM109 375h6v1h-6zM125 375h2v1h-2zM171 375h2v1h-2zM221 375h2v1h-2zM486 401h3v1h-3zM312 394h5v1h-5zM327 394h4v1h-4zM368 394h3v1h-3zM403 394h2v1h-2zM415 406h2v1h-2zM462 406h9v1h-9zM235 371h7v1h-7zM115 376h2v1h-2zM122 376h3v1h-3zM173 376h2v1h-2zM219 376h2v1h-2zM93 372h7v1h-7zM232 372h3v1h-3zM242 372h10v1h-10zM13 330h3v1h-3zM421 410h5v1h-5zM437 410h7v1h-7zM376 391h2v1h-2zM384 391h11v1h-11zM143 363h4v1h-4zM373 392h3v1h-3zM395 392h6v1h-6zM103 374h6v1h-6zM127 374h2v1h-2zM169 374h2v1h-2zM223 374h4v1h-4zM254 374h2v1h-2zM283 388h7v1h-7zM307 390h2v1h-2zM378 390h6v1h-6zM147 362h9v1h-9zM63 373h2v1h-2zM88 373h5v1h-5zM100 373h3v1h-3zM167 373h2v1h-2zM227 373h5v1h-5zM252 373h2v1h-2zM480 403h3v1h-3zM16 331h5v1h-5zM268 384h3v1h-3zM419 409h2v1h-2zM444 409h7v1h-7zM262 381h2v1h-2zM139 365h2v1h-2zM158 365h2v1h-2zM491 399h3v1h-3zM264 382h2v1h-2zM266 383h2v1h-2zM477 404h3v1h-3zM21 332h5v1h-5zM75 379h4v1h-4zM494 398h8v1h-8zM271 385h3v1h-3zM455 407h7v1h-7zM4 327h4v1h-4zM471 405h6v1h-6zM483 402h3v1h-3zM278 387h5v1h-5zM26 333h2v1h-2zM44 349h2v1h-2zM274 386h4v1h-4zM48 351h2v1h-2zM10 329h3v1h-3zM34 340h2v1h-2zM331 395h2v1h-2zM366 395h2v1h-2zM512 395h2v1h-2zM133 369h2v1h-2zM451 408h4v1h-4zM141 364h2v1h-2zM489 400h2v1h-2zM2 326h2v1h-2zM46 350h2v1h-2zM43 348h1v1h-1zM311 393h1v1h-1zM58 366h1v2h-1zM160 366h1v1h-1zM259 378h1v1h-1zM407 397h1v1h-1zM258 377h1v1h-1zM406 396h1v1h-1zM256 375h1v1h-1zM410 400h1v2h-1zM514 394h1v1h-1zM61 371h1v1h-1zM131 371h1v1h-1zM165 371h1v1h-1zM68 376h1v1h-1zM84 376h1v1h-1zM257 376h1v1h-1zM62 372h1v1h-1zM130 372h1v1h-1zM166 372h1v1h-1zM309 391h1v1h-1zM57 363h1v3h-1zM156 363h1v1h-1zM310 392h1v1h-1zM65 374h1v1h-1zM87 374h1v1h-1zM56 361h1v2h-1zM42 347h1v1h-1zM31 337h1v1h-1zM54 357h1v1h-1zM32 338h1v1h-1zM129 373h1v1h-1zM412 403h1v1h-1zM53 355h1v2h-1zM409 399h1v1h-1zM413 404h1v1h-1zM260 379h1v1h-1zM261 380h1v1h-1zM136 367h1v1h-1zM161 367h1v1h-1zM408 398h1v1h-1zM417 407h1v1h-1zM37 342h1v1h-1zM414 405h1v1h-1zM411 402h1v1h-1zM38 343h1v1h-1zM55 358h1v3h-1zM59 368h1v2h-1zM135 368h1v1h-1zM162 368h1v1h-1zM33 339h1v1h-1zM405 395h1v1h-1zM163 369h1v1h-1zM418 408h1v1h-1zM157 364h1v1h-1zM40 345h1v1h-1zM39 344h1v1h-1zM28 334h1v1h-1zM60 370h1v1h-1zM132 370h1v1h-1zM164 370h1v1h-1zM50 352h1v1h-1zM30 336h1v1h-1zM41 346h1v1h-1zM29 335h1v1h-1zM52 354h1v1h-1zM51 353h1v1h-1zM36 341h1v1h-1z" fill="#0000dd" shape-rendering="crispEdges"/>
<path d="M24 331h6v1h-6zM339 394h13v1h-13zM370 394h7v1h-7zM407 394h2v1h-2zM331 392h4v1h-4zM383 392h20v1h-20zM436 406h5v1h-5zM469 406h12v1h-12zM274 379h3v1h-3zM352 395h18v1h-18zM409 395h3v1h-3zM77 366h2v1h-2zM153 366h10v1h-10zM314 389h5v1h-5zM294 385h6v1h-6zM2 330h22v1h-22zM117 374h13v1h-13zM184 374h6v1h-6zM234 374h11v1h-11zM255 374h5v1h-5zM424 402h3v1h-3zM496 402h5v1h-5zM319 390h9v1h-9zM335 393h4v1h-4zM377 393h6v1h-6zM403 393h4v1h-4zM300 386h9v1h-9zM277 380h3v1h-3zM114 373h3v1h-3zM130 373h4v1h-4zM181 373h3v1h-3zM245 373h10v1h-10zM79 367h3v1h-3zM150 367h3v1h-3zM163 367h4v1h-4zM208 377h9v1h-9zM267 377h4v1h-4zM200 376h8v1h-8zM217 376h10v1h-10zM264 376h3v1h-3zM433 405h3v1h-3zM481 405h6v1h-6zM86 370h10v1h-10zM141 370h3v1h-3zM172 370h3v1h-3zM280 381h3v1h-3zM190 375h10v1h-10zM227 375h7v1h-7zM260 375h4v1h-4zM96 371h11v1h-11zM137 371h4v1h-4zM175 371h4v1h-4zM509 399h4v1h-4zM43 338h2v1h-2zM34 334h2v1h-2zM441 407h28v1h-28zM36 335h2v1h-2zM328 391h3v1h-3zM38 336h2v1h-2zM30 332h2v1h-2zM32 333h2v1h-2zM421 401h3v1h-3zM501 401h4v1h-4zM419 400h2v1h-2zM505 400h4v1h-4zM40 337h3v1h-3zM416 398h2v1h-2zM513 398h2v1h-2zM283 382h3v1h-3zM84 369h2v1h-2zM144 369h2v1h-2zM169 369h3v1h-3zM427 403h4v1h-4zM492 403h4v1h-4zM45 339h3v1h-3zM82 368h2v1h-2zM146 368h4v1h-4zM167 368h2v1h-2zM75 365h2v1h-2zM107 372h7v1h-7zM134 372h3v1h-3zM179 372h2v1h-2zM431 404h2v1h-2zM487 404h5v1h-5zM290 384h4v1h-4zM72 363h2v1h-2zM412 396h2v1h-2zM309 387h2v1h-2zM271 378h3v1h-3zM311 388h3v1h-3zM286 383h4v1h-4zM48 340h2v1h-2zM414 397h2v1h-2zM54 345h2v1h-2zM69 360h1v1h-1zM61 351h1v1h-1zM62 352h1v1h-1zM51 342h1v1h-1zM418 399h1v1h-1zM50 341h1v1h-1zM64 355h1v1h-1zM65 356h1v1h-1zM56 346h1v1h-1zM57 347h1v1h-1zM63 353h1v2h-1zM70 361h1v1h-1zM71 362h1v1h-1zM52 343h1v1h-1zM66 357h1v1h-1zM58 348h1v1h-1zM53 344h1v1h-1zM68 359h1v1h-1zM60 350h1v1h-1zM67 358h1v1h-1zM59 349h1v1h-1zM74 364h1v1h-1z" fill="#dd0000" shape-rendering="crispEdges"/>
<g shape-rendering="crispEdges">
<rect x="25" y="4" width="9" height="1" fill="#00cc00"/>
<rect x="72" y="4" width="9" height="1" fill="#c4c4c4"/>
<rect x="112" y="4" width="9" height="1" fill="#a00000"/>
</g>
<text transform="translate(0.3,7.8) scale(0.88,1)" font-size="10" fill="#00cc00" filter="url(#cr)" font-family="Liberation Sans, sans-serif" >MA20</text>
<text transform="translate(40.3,7.8) scale(0.875,1)" font-size="10" fill="#c4c4c4" filter="url(#cr)" font-family="Liberation Sans, sans-serif" >B</text>
<text transform="translate(47.2,7.8) scale(0.84,1)" font-size="10" fill="#c4c4c4" filter="url(#cr)" font-family="Liberation Sans, sans-serif" >Bands</text>
<text transform="translate(86.3,7.8) scale(0.88,1)" font-size="10" fill="#a00000" filter="url(#cr)" font-family="Liberation Sans, sans-serif" >MA50</text>
<text x="449" y="7.9" font-size="9.7" fill="#000" filter="url(#cr)" font-family="Liberation Sans, sans-serif" font-style="italic" textLength="124.5" lengthAdjust="spacing">© TEC 24/8/2025 3:0 GMT</text>
<path d="M588 76h3v1h-3zM587 77h1v1h-1zM591 77h1v1h-1zM591 78h1v1h-1zM591 79h1v1h-1zM589 80h2v1h-2zM591 81h1v1h-1zM591 82h1v1h-1zM587 83h1v1h-1zM591 83h1v1h-1zM588 84h3v1h-3z" fill="#c0c0c0" shape-rendering="crispEdges"/>
<path d="M595 76h3v1h-3zM594 77h1v1h-1zM598 77h1v1h-1zM594 78h1v1h-1zM598 78h1v1h-1zM594 79h1v1h-1zM598 79h1v1h-1zM594 80h1v1h-1zM598 80h1v1h-1zM594 81h1v1h-1zM598 81h1v1h-1zM594 82h1v1h-1zM598 82h1v1h-1zM594 83h1v1h-1zM598 83h1v1h-1zM595 84h3v1h-3z" fill="#c0c0c0" shape-rendering="crispEdges"/>
<path d="M602 76h3v1h-3zM601 77h1v1h-1zM605 77h1v1h-1zM601 78h1v1h-1zM605 78h1v1h-1zM601 79h1v1h-1zM605 79h1v1h-1zM601 80h1v1h-1zM605 80h1v1h-1zM601 81h1v1h-1zM605 81h1v1h-1zM601 82h1v1h-1zM605 82h1v1h-1zM601 83h1v1h-1zM605 83h1v1h-1zM602 84h3v1h-3z" fill="#c0c0c0" shape-rendering="crispEdges"/>
<path d="M609 76h3v1h-3zM609 82h3v1h-3zM608 77h1v5h-1zM612 77h1v5h-1z" fill="#c0c0c0" shape-rendering="crispEdges"/>
<path d="M615 76h3v1h-3zM615 82h3v1h-3zM614 77h1v5h-1zM618 77h1v5h-1z" fill="#c0c0c0" shape-rendering="crispEdges"/>
<path d="M588 178h3v1h-3zM587 179h1v1h-1zM591 179h1v1h-1zM591 180h1v1h-1zM591 181h1v1h-1zM590 182h1v1h-1zM589 183h1v1h-1zM588 184h1v1h-1zM587 185h1v1h-1zM587 186h5v1h-5z" fill="#c0c0c0" shape-rendering="crispEdges"/>
<path d="M594 178h5v1h-5zM594 179h1v1h-1zM594 180h1v1h-1zM594 181h4v1h-4zM594 182h1v1h-1zM598 182h1v1h-1zM598 183h1v1h-1zM598 184h1v1h-1zM594 185h1v1h-1zM598 185h1v1h-1zM595 186h3v1h-3z" fill="#c0c0c0" shape-rendering="crispEdges"/>
<path d="M602 178h3v1h-3zM601 179h1v1h-1zM605 179h1v1h-1zM601 180h1v1h-1zM605 180h1v1h-1zM601 181h1v1h-1zM605 181h1v1h-1zM601 182h1v1h-1zM605 182h1v1h-1zM601 183h1v1h-1zM605 183h1v1h-1zM601 184h1v1h-1zM605 184h1v1h-1zM601 185h1v1h-1zM605 185h1v1h-1zM602 186h3v1h-3z" fill="#c0c0c0" shape-rendering="crispEdges"/>
<path d="M609 178h3v1h-3zM609 184h3v1h-3zM608 179h1v5h-1zM612 179h1v5h-1z" fill="#c0c0c0" shape-rendering="crispEdges"/>
<path d="M615 178h3v1h-3zM615 184h3v1h-3zM614 179h1v5h-1zM618 179h1v5h-1z" fill="#c0c0c0" shape-rendering="crispEdges"/>
<path d="M588 279h3v1h-3zM587 280h1v1h-1zM591 280h1v1h-1zM591 281h1v1h-1zM591 282h1v1h-1zM590 283h1v1h-1zM589 284h1v1h-1zM588 285h1v1h-1zM587 286h1v1h-1zM587 287h5v1h-5z" fill="#c0c0c0" shape-rendering="crispEdges"/>
<path d="M595 279h3v1h-3zM594 280h1v1h-1zM598 280h1v1h-1zM594 281h1v1h-1zM598 281h1v1h-1zM594 282h1v1h-1zM598 282h1v1h-1zM594 283h1v1h-1zM598 283h1v1h-1zM594 284h1v1h-1zM598 284h1v1h-1zM594 285h1v1h-1zM598 285h1v1h-1zM594 286h1v1h-1zM598 286h1v1h-1zM595 287h3v1h-3z" fill="#c0c0c0" shape-rendering="crispEdges"/>
<path d="M602 279h3v1h-3zM601 280h1v1h-1zM605 280h1v1h-1zM601 281h1v1h-1zM605 281h1v1h-1zM601 282h1v1h-1zM605 282h1v1h-1zM601 283h1v1h-1zM605 283h1v1h-1zM601 284h1v1h-1zM605 284h1v1h-1zM601 285h1v1h-1zM605 285h1v1h-1zM601 286h1v1h-1zM605 286h1v1h-1zM602 287h3v1h-3z" fill="#c0c0c0" shape-rendering="crispEdges"/>
<path d="M609 279h3v1h-3zM609 285h3v1h-3zM608 280h1v5h-1zM612 280h1v5h-1z" fill="#c0c0c0" shape-rendering="crispEdges"/>
<path d="M615 279h3v1h-3zM615 285h3v1h-3zM614 280h1v5h-1zM618 280h1v5h-1z" fill="#c0c0c0" shape-rendering="crispEdges"/>
<path d="M596 345h1v1h-1zM595 346h2v1h-2zM594 347h1v1h-1zM596 347h1v1h-1zM596 348h1v1h-1zM596 349h1v1h-1zM596 350h1v1h-1zM596 351h1v1h-1zM596 352h1v1h-1zM596 353h1v1h-1z" fill="#c0c0c0" shape-rendering="crispEdges"/>
<path d="M601 345h5v1h-5zM601 346h1v1h-1zM601 347h1v1h-1zM601 348h4v1h-4zM601 349h1v1h-1zM605 349h1v1h-1zM605 350h1v1h-1zM605 351h1v1h-1zM601 352h1v1h-1zM605 352h1v1h-1zM602 353h3v1h-3z" fill="#c0c0c0" shape-rendering="crispEdges"/>
<path d="M609 345h3v1h-3zM609 351h3v1h-3zM608 346h1v5h-1zM612 346h1v5h-1z" fill="#c0c0c0" shape-rendering="crispEdges"/>
<path d="M615 345h3v1h-3zM615 351h3v1h-3zM614 346h1v5h-1zM618 346h1v5h-1z" fill="#c0c0c0" shape-rendering="crispEdges"/>
<path d="M601 373h5v1h-5zM601 374h1v1h-1zM601 375h1v1h-1zM601 376h4v1h-4zM601 377h1v1h-1zM605 377h1v1h-1zM605 378h1v1h-1zM605 379h1v1h-1zM601 380h1v1h-1zM605 380h1v1h-1zM602 381h3v1h-3z" fill="#c0c0c0" shape-rendering="crispEdges"/>
<path d="M609 373h3v1h-3zM609 379h3v1h-3zM608 374h1v5h-1zM612 374h1v5h-1z" fill="#c0c0c0" shape-rendering="crispEdges"/>
<path d="M615 373h3v1h-3zM615 379h3v1h-3zM614 374h1v5h-1zM618 374h1v5h-1z" fill="#c0c0c0" shape-rendering="crispEdges"/>
<path d="M595 102h3v1h-3zM594 103h1v1h-1zM598 103h1v1h-1zM598 104h1v1h-1zM597 105h1v1h-1zM596 106h1v1h-1zM595 107h1v1h-1zM594 108h1v1h-1zM594 109h5v1h-5z" fill="#dd0000" shape-rendering="crispEdges"/>
<path d="M601 102h3v1h-3zM600 103h1v1h-1zM604 103h1v1h-1zM600 104h1v1h-1zM604 104h1v1h-1zM601 105h3v1h-3zM600 106h1v1h-1zM604 106h1v1h-1zM600 107h1v1h-1zM604 107h1v1h-1zM600 108h1v1h-1zM604 108h1v1h-1zM601 109h3v1h-3z" fill="#dd0000" shape-rendering="crispEdges"/>
<path d="M606 102h5v1h-5zM606 103h1v1h-1zM606 104h1v1h-1zM606 105h4v1h-4zM610 106h1v1h-1zM610 107h1v1h-1zM606 108h1v1h-1zM610 108h1v1h-1zM607 109h3v1h-3z" fill="#dd0000" shape-rendering="crispEdges"/>
<path d="M616 102h1v1h-1zM615 103h2v1h-2zM616 104h1v1h-1zM616 105h1v1h-1zM616 106h1v1h-1zM616 107h1v1h-1zM616 108h1v1h-1z" fill="#dd0000" shape-rendering="crispEdges"/>
<path d="M620 102h2v1h-2zM619 103h1v1h-1zM622 103h1v1h-1zM622 104h1v1h-1zM621 105h1v1h-1zM620 106h1v1h-1zM619 107h1v1h-1zM619 108h4v1h-4z" fill="#dd0000" shape-rendering="crispEdges"/>
<path d="M571 150h3v1h-3zM570 151h1v1h-1zM574 151h1v1h-1zM574 152h1v1h-1zM573 153h1v1h-1zM572 154h1v1h-1zM571 155h1v1h-1zM570 156h1v1h-1zM570 157h5v1h-5z" fill="#009900" shape-rendering="crispEdges"/>
<path d="M577 150h3v1h-3zM576 151h1v1h-1zM580 151h1v1h-1zM576 152h1v1h-1zM576 153h4v1h-4zM576 154h1v1h-1zM580 154h1v1h-1zM576 155h1v1h-1zM580 155h1v1h-1zM576 156h1v1h-1zM580 156h1v1h-1zM577 157h3v1h-3z" fill="#009900" shape-rendering="crispEdges"/>
<path d="M584 150h1v1h-1zM583 151h2v1h-2zM582 152h1v1h-1zM584 152h1v1h-1zM584 153h1v1h-1zM584 154h1v1h-1zM584 155h1v1h-1zM584 156h1v1h-1zM584 157h1v1h-1z" fill="#009900" shape-rendering="crispEdges"/>
<path d="M590 150h4v1h-4zM590 151h1v1h-1zM590 152h3v1h-3zM593 153h1v1h-1zM593 154h1v1h-1zM590 155h1v1h-1zM593 155h1v1h-1zM591 156h2v1h-2z" fill="#009900" shape-rendering="crispEdges"/>
<path d="M596 150h2v1h-2zM595 151h1v1h-1zM598 151h1v1h-1zM598 152h1v1h-1zM597 153h1v1h-1zM596 154h1v1h-1zM595 155h1v1h-1zM595 156h4v1h-4z" fill="#009900" shape-rendering="crispEdges"/>
<path d="M3 324h1v1h-1zM9 324h1v1h-1zM3 325h2v1h-2zM8 325h2v1h-2zM3 326h1v1h-1zM5 326h1v1h-1zM7 326h1v1h-1zM9 326h1v1h-1zM3 327h1v1h-1zM5 327h1v1h-1zM7 327h1v1h-1zM9 327h1v1h-1zM3 328h1v1h-1zM6 328h1v1h-1zM9 328h1v1h-1zM3 329h1v1h-1zM6 329h1v1h-1zM9 329h1v1h-1zM3 330h1v1h-1zM6 330h1v1h-1zM9 330h1v1h-1z" fill="#000" shape-rendering="crispEdges"/>
<path d="M14 324h1v1h-1zM13 325h1v1h-1zM15 325h1v1h-1zM13 326h1v1h-1zM15 326h1v1h-1zM12 327h1v1h-1zM16 327h1v1h-1zM12 328h5v1h-5zM11 329h1v1h-1zM17 329h1v1h-1zM11 330h1v1h-1zM17 330h1v1h-1z" fill="#000" shape-rendering="crispEdges"/>
<path d="M21 324h3v1h-3zM20 325h1v1h-1zM24 325h1v1h-1zM19 326h1v1h-1zM19 327h1v1h-1zM19 328h1v1h-1zM20 329h1v1h-1zM24 329h1v1h-1zM21 330h3v1h-3z" fill="#000" shape-rendering="crispEdges"/>
<path d="M26 324h4v1h-4zM26 325h1v1h-1zM30 325h1v1h-1zM26 326h1v1h-1zM31 326h1v1h-1zM26 327h1v1h-1zM31 327h1v1h-1zM26 328h1v1h-1zM31 328h1v1h-1zM26 329h1v1h-1zM30 329h1v1h-1zM26 330h4v1h-4z" fill="#000" shape-rendering="crispEdges"/>
<path d="M45 429h1v1h-1zM44 430h1v1h-1zM46 430h1v1h-1zM44 431h1v1h-1zM46 431h1v1h-1zM44 432h1v1h-1zM46 432h1v1h-1zM43 433h1v1h-1zM47 433h1v1h-1zM43 434h5v1h-5zM43 435h1v1h-1zM47 435h1v1h-1zM42 436h1v1h-1zM48 436h1v1h-1zM42 437h1v1h-1zM48 437h1v1h-1z" fill="#000" shape-rendering="crispEdges"/>
<path d="M138 429h1v1h-1zM144 429h1v1h-1zM138 430h2v1h-2zM143 430h2v1h-2zM138 431h2v1h-2zM143 431h2v1h-2zM138 432h1v1h-1zM140 432h1v1h-1zM142 432h1v1h-1zM144 432h1v1h-1zM138 433h1v1h-1zM140 433h1v1h-1zM142 433h1v1h-1zM144 433h1v1h-1zM138 434h1v1h-1zM140 434h1v1h-1zM142 434h1v1h-1zM144 434h1v1h-1zM138 435h1v1h-1zM140 435h1v1h-1zM142 435h1v1h-1zM144 435h1v1h-1zM138 436h1v1h-1zM141 436h1v1h-1zM144 436h1v1h-1zM138 437h1v1h-1zM141 437h1v1h-1zM144 437h1v1h-1z" fill="#000" shape-rendering="crispEdges"/>
<path d="M241 429h1v1h-1zM241 430h1v1h-1zM241 431h1v1h-1zM241 432h1v1h-1zM241 433h1v1h-1zM241 434h1v1h-1zM237 435h1v1h-1zM241 435h1v1h-1zM237 436h1v1h-1zM241 436h1v1h-1zM238 437h3v1h-3z" fill="#000" shape-rendering="crispEdges"/>
<path d="M340 429h1v1h-1zM340 430h1v1h-1zM340 431h1v1h-1zM340 432h1v1h-1zM340 433h1v1h-1zM340 434h1v1h-1zM336 435h1v1h-1zM340 435h1v1h-1zM336 436h1v1h-1zM340 436h1v1h-1zM337 437h3v1h-3z" fill="#000" shape-rendering="crispEdges"/>
<path d="M448 429h1v1h-1zM447 430h1v1h-1zM449 430h1v1h-1zM447 431h1v1h-1zM449 431h1v1h-1zM447 432h1v1h-1zM449 432h1v1h-1zM446 433h1v1h-1zM450 433h1v1h-1zM446 434h5v1h-5zM446 435h1v1h-1zM450 435h1v1h-1zM445 436h1v1h-1zM451 436h1v1h-1zM445 437h1v1h-1zM451 437h1v1h-1z" fill="#000" shape-rendering="crispEdges"/>
<path d="M566 429h4v1h-4zM565 430h1v1h-1zM570 430h1v1h-1zM565 431h1v1h-1zM570 431h1v1h-1zM565 432h1v1h-1zM566 433h4v1h-4zM570 434h1v1h-1zM565 435h1v1h-1zM570 435h1v1h-1zM565 436h1v1h-1zM570 436h1v1h-1zM566 437h4v1h-4z" fill="#000" shape-rendering="crispEdges"/>
</svg>
</body></html>
